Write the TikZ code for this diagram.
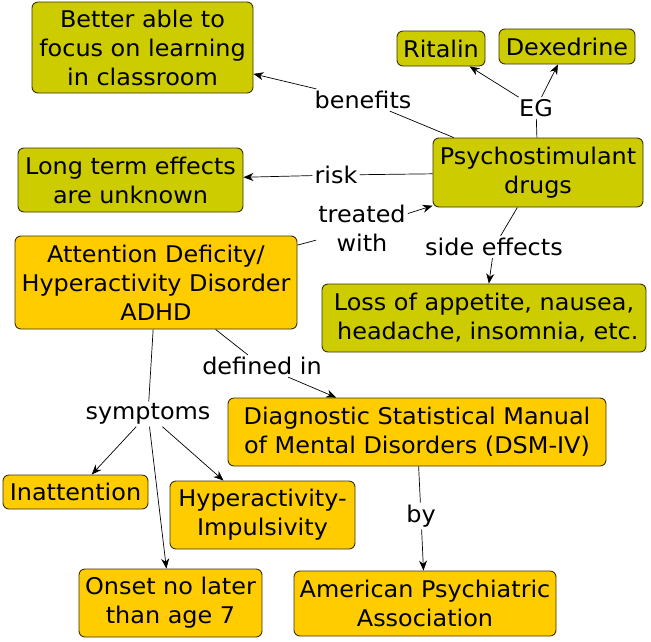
\documentclass[tikz,border=0pt]{standalone}
\usepackage{fontspec}
\setmainfont{DejaVu Sans}[FakeStretch=1.04]
\usetikzlibrary{arrows.meta}
\definecolor{drugcol}{RGB}{204,204,0}
\definecolor{adhdcol}{RGB}{255,204,0}
\definecolor{edgecol}{RGB}{60,50,0}
\begin{document}
\begin{tikzpicture}[x=1pt,y=-1pt,
  font=\fontsize{23}{29}\selectfont,
  box/.style={draw=edgecol, line width=0.9pt, rounded corners=6pt, align=center, inner sep=0pt},
  gbox/.style={box, fill=drugcol},
  obox/.style={box, fill=adhdcol},
  lab/.style={inner sep=2pt, align=center},
  ln/.style={line width=0.7pt},
  arr/.style={ln, -{Stealth[length=10pt,width=8pt]}}]
\useasboundingbox (0,0) rectangle (651,641);
% boxes
\node[gbox, minimum width=221pt, minimum height=91pt] (better) at (142.5,47.5) {Better able to\\focus on learning\\in classroom};
\node[gbox, minimum width=88pt, minimum height=35pt] (ritalin) at (441,48.5) {Ritalin};
\node[gbox, minimum width=136pt, minimum height=35pt] (dex) at (567,46.5) {Dexedrine};
\node[gbox, minimum width=210pt, minimum height=69pt] (psy) at (538,172.5) {Psychostimulant\\drugs};
\node[gbox, minimum width=225pt, minimum height=64pt] (long) at (130.5,180) {Long term effects\\are unknown};
\node[obox, minimum width=282pt, minimum height=93pt] (adhd) at (156,282.5) {Attention Deficity/\\Hyperactivity Disorder\\ADHD};
\node[gbox, minimum width=324pt, minimum height=68pt] (loss) at (484,318) {Loss of appetite, nausea,\\\ headache, insomnia, etc.};
\node[obox, minimum width=378pt, minimum height=68pt] (dsm) at (417,432) {Diagnostic Statistical Manual\\of Mental Disorders (DSM-IV)};
\node[obox, minimum width=145pt, minimum height=34pt] (inatt) at (75.5,492) {Inattention};
\node[obox, minimum width=185pt, minimum height=68pt] (hyper) at (262.5,515) {Hyperactivity-\\Impulsivity};
\node[obox, minimum width=183pt, minimum height=68pt] (onset) at (170.5,603) {Onset no later\\than age 7};
\node[obox, minimum width=262pt, minimum height=65pt] (apa) at (425,603.5) {American Psychiatric\\Association};
% labels
\node[lab] (lbenefits) at (363,100) {benefits};
\node[lab] (leg) at (536,108) {EG};
\node[lab] (lrisk) at (336,175) {risk};
\node[lab] (ltreated) at (362,228) {treated\\with};
\node[lab] (lside) at (494,247) {side effects};
\node[lab] (ldefined) at (262,366) {defined in};
\node[lab] (lsympt) at (148,414) {symptoms};
\node[lab] (lby) at (421,516) {by};
% connectors
\draw[ln] (psy) -- (lbenefits); \draw[arr] (lbenefits) -- (better);
\draw[ln] (psy) -- (leg); \draw[arr] (leg) -- (ritalin); \draw[arr] (leg) -- (dex);
\draw[ln] (psy) -- (lrisk); \draw[arr] (lrisk) -- (long);
\draw[ln] (adhd) -- (ltreated); \draw[arr] (ltreated) -- (psy);
\draw[ln] (psy) -- (lside); \draw[arr] (lside) -- (loss);
\draw[ln] (adhd) -- (ldefined); \draw[arr] (ldefined) -- (dsm);
\draw[ln] (adhd) -- (lsympt);
\draw[arr] (lsympt) -- (inatt); \draw[arr] (lsympt) -- (hyper); \draw[arr] (lsympt) -- (onset);
\draw[ln] (dsm) -- (lby); \draw[arr] (lby) -- (apa);
\end{tikzpicture}
\end{document}
